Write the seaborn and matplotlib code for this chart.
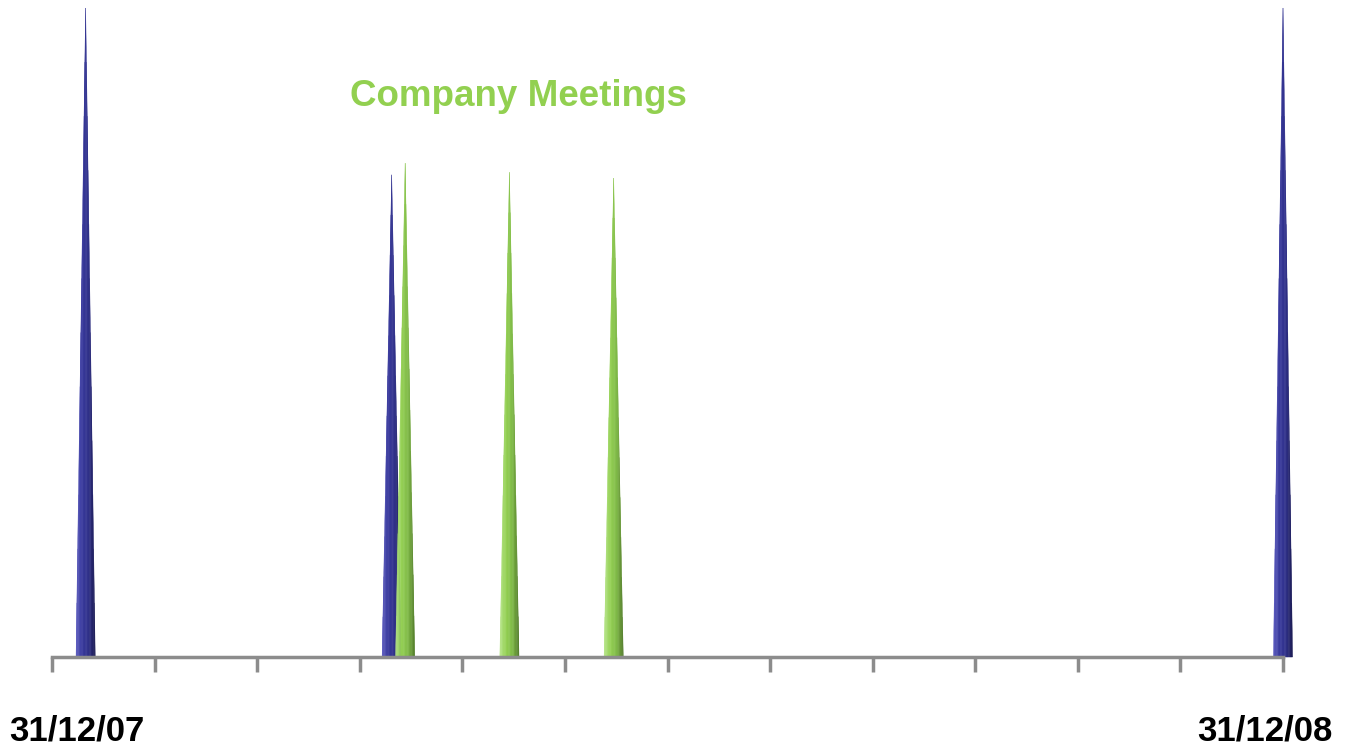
import numpy as np
import pandas as pd
import matplotlib
matplotlib.use("Agg")
import matplotlib.pyplot as plt
from matplotlib.colors import LinearSegmentedColormap
import seaborn as sns

# Timeline events
start_label = "31/12/07"
end_label = "31/12/08"
start_date = "2007-12-31"
end_date = "2008-12-31"
event_dates = ["2008-01-10", "2008-04-10", "2008-04-14", "2008-05-15", "2008-06-15", "2008-12-31"]
event_heights = [1.0, 0.743, 0.761, 0.747, 0.738, 1.0]
event_groups = ["milestone", "milestone", "meeting", "meeting", "meeting", "milestone"]
n_intervals = 12
title_text = "Company Meetings"

sns.set_theme(style="white")
plt.rcParams["font.family"] = ["Liberation Sans", "DejaVu Sans"]

palette = {
    "milestone": ["#5a5ac0", "#33349a", "#2a2b86", "#161650"],
    "meeting": ["#b8e68a", "#92d050", "#7cb842", "#4f7a26"],
}

t0 = pd.Timestamp(start_date)
t1 = pd.Timestamp(end_date)
span = (t1 - t0).days
df = pd.DataFrame({"date": pd.to_datetime(event_dates), "height": event_heights, "group": event_groups})
df["day"] = (df["date"] - t0).dt.days

fig = plt.figure(figsize=(13.47, 7.5), dpi=100)
ax = fig.add_axes([52 / 1347, 93 / 750, 1231 / 1347, 649 / 750])


def draw_spike(ax, x, h, cmap, half_w=2.85, n_strips=24):
    """Shaded cone: vertical strips of a triangle, light on the left, dark on the right."""
    edges = np.linspace(-1, 1, n_strips + 1)
    for i in range(n_strips):
        ua, ub = edges[i], edges[i + 1]
        us = [ua, ub] if not (ua < 0 < ub) else [ua, 0.0, ub]
        tops = [(x + u * half_w, h * (1 - abs(u))) for u in us]
        verts = [(x + ua * half_w, 0)] + tops + [(x + ub * half_w, 0)]
        px, py = zip(*verts)
        ax.fill(px, py, color=cmap((i + 0.5) / n_strips), lw=0.3,
                ec=cmap((i + 0.5) / n_strips), clip_on=False, zorder=3)


for _, r in df.iterrows():
    cmap = LinearSegmentedColormap.from_list("shade", palette[r["group"]])
    draw_spike(ax, r["day"], r["height"], cmap)

ax.set_xlim(0, span)
ax.set_ylim(0, 1.0)

# Axis line and ticks
ticks = np.linspace(0, span, n_intervals + 1)
ax.set_xticks(ticks)
ax.set_xticklabels([])
ax.set_yticks([])
ax.tick_params(axis="x", direction="out", length=11, width=2.5, color="#8c8c8c", bottom=True)
sns.despine(ax=ax, left=True, top=True, right=True)
ax.spines["bottom"].set_color("#8c8c8c")
ax.spines["bottom"].set_linewidth(2.5)
ax.spines["bottom"].set_zorder(4)
ax.set_facecolor("white")

# End labels
ax.annotate(start_label, xy=(0, 0), xycoords="data", xytext=(-31, -53), textcoords="offset points",
            ha="left", va="center", fontsize=25, fontweight="bold", color="black")
ax.annotate(end_label, xy=(span, 0), xycoords="data", xytext=(36, -53), textcoords="offset points",
            ha="right", va="center", fontsize=25, fontweight="bold", color="black")

fig.text(350 / 1347, 1 - 97 / 750, title_text, ha="left", va="center",
         fontsize=26.5, fontweight="bold", color="#92d050")

fig.savefig("out.png", dpi=100, facecolor="white")
